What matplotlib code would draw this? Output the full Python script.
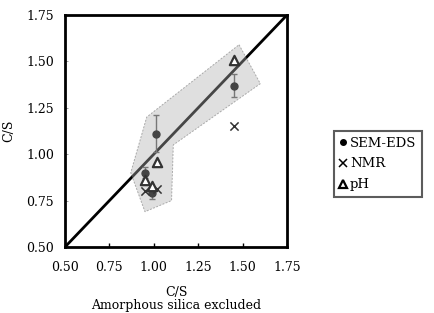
import numpy as np
import matplotlib
matplotlib.use("Agg")
import matplotlib.pyplot as plt
from matplotlib.patches import Polygon
from matplotlib.lines import Line2D

plt.rcParams['font.family'] = ['DejaVu Serif']

# SEM-EDS points with error bars
sem_x = [0.95, 1.01, 0.99, 1.45]
sem_y = [0.90, 1.11, 0.79, 1.37]
sem_err_lo = [0.03, 0.10, 0.03, 0.06]
sem_err_hi = [0.03, 0.10, 0.03, 0.06]

# NMR
nmr_x = [0.95, 1.02, 1.45]
nmr_y = [0.80, 0.81, 1.15]

# pH
ph_x = [0.95, 0.99, 1.02, 1.45]
ph_y = [0.86, 0.83, 0.96, 1.51]

# shaded region outline
region_x = [1.48, 1.60, 1.11, 1.10, 0.95, 0.87, 0.96]
region_y = [1.59, 1.38, 1.05, 0.75, 0.69, 0.90, 1.20]

ticks = [0.50, 0.75, 1.00, 1.25, 1.50, 1.75]

fig = plt.figure(figsize=(4.34, 3.13), dpi=100)
ax = fig.add_axes([65/434, 1 - 247/313, 222/434, 232/313])

ax.plot([0.5, 1.75], [0.5, 1.75], color='black', lw=2, zorder=1)
poly = Polygon(list(zip(region_x, region_y)), closed=True, facecolor='#b0b0b0',
               edgecolor='#444444', ls=(0, (2, 1.5)), lw=0.7, alpha=0.4, zorder=2)
ax.add_patch(poly)

ax.errorbar(sem_x, sem_y, yerr=[sem_err_lo, sem_err_hi], fmt='o', color='#444444',
            ms=5, ecolor='#777777', elinewidth=1, capsize=2, zorder=4)
ax.scatter(nmr_x, nmr_y, marker='x', color='#333333', s=35, lw=1.1, zorder=5)
ax.scatter(ph_x, ph_y, marker='^', facecolor='white', edgecolor='#333333', s=45, lw=1.6,
           zorder=5)

ax.set_xlim(0.5, 1.75)
ax.set_ylim(0.5, 1.75)
ax.set_xticks(ticks)
ax.set_yticks(ticks)
ax.set_xticklabels(['%.2f' % t for t in ticks], fontsize=9)
ax.set_yticklabels(['%.2f' % t for t in ticks], fontsize=9)
ax.tick_params(direction='in', length=3, width=1, pad=10)
ax.tick_params(axis='y', length=2, width=0.5, color='#777777', pad=8)
for s in ax.spines.values():
    s.set_linewidth(2)

ax.set_xlabel('C/S\nAmorphous silica excluded', fontsize=9, labelpad=9, linespacing=1.0)
ax.set_ylabel('C/S', fontsize=9, labelpad=8)

handles = [
    Line2D([], [], marker='o', ls='none', color='black', ms=4),
    Line2D([], [], marker='x', ls='none', color='black', ms=6, mew=1.1),
    Line2D([], [], marker='^', ls='none', mfc='white', mec='black', ms=6, mew=1.6),
]
labels = ['SEM-EDS', 'NMR', 'pH']
leg = fig.legend(handles, labels, loc='center', bbox_to_anchor=(378/434, 1 - 164/313),
                 fontsize=9.5, frameon=True, fancybox=False, handlelength=0.5,
                 handletextpad=0.3, borderpad=0.4, labelspacing=0.6, borderaxespad=0)
leg.get_frame().set_edgecolor('#333333')
leg.get_frame().set_linewidth(1.5)

fig.savefig('out.png', dpi=100)
